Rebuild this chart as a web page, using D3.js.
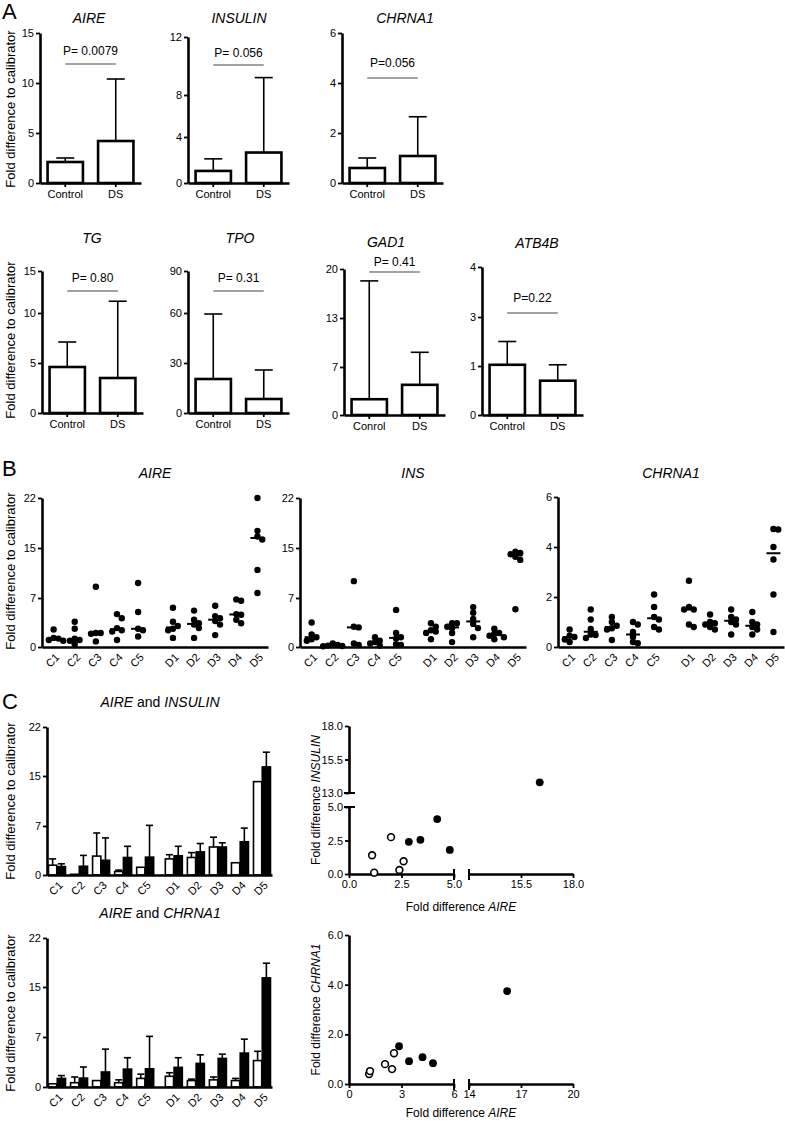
<!DOCTYPE html>
<html>
<head>
<meta charset="utf-8">
<title>AIRE and tissue antigen expression</title>
<script src="https://d3js.org/d3.v7.min.js"></script>
<style>
  body { margin: 0; background: #fff; }
  svg text { font-family: "Liberation Sans", Arial, Helvetica, sans-serif; fill: #000; }
</style>
</head>
<body>
<div id="chart"></div>
<script>
// ---------- Panel A: Control vs DS ----------
const groupsA = ["Control", "DS"];
const genesA = ["AIRE", "INSULIN", "CHRNA1", "TG", "TPO", "GAD1", "ATB4B"];
const barA = [[2.1, 4.2], [1.05, 2.65], [0.6, 1.08], [4.6, 3.5], [20.4, 8.4], [2.3, 4.4], [1.05, 0.7]];
const errA = [[2.5, 10.4], [2.1, 9.2], [1.0, 2.65], [7.1, 11.4], [59.4, 25.8], [18.3, 8.8], [2.0, 1.05]];
const pA = ["P= 0.0079", "P= 0.056", "P=0.056", "P= 0.80", "P= 0.31", "P= 0.41", "P=0.22"];
const ticksA = [[0, 5, 10, 15], [0, 4, 8, 12], [0, 2, 4, 6], [0, 5, 10, 15], [0, 30, 60, 90], [0, 7, 13, 20], [0, 1, 3, 4]];
const xLabelsA = [groupsA, groupsA, groupsA, groupsA, groupsA, ["Conrol", "DS"], groupsA];

// ---------- Panel B: individual samples ----------
const catsB = ["C1", "C2", "C3", "C4", "C5", "D1", "D2", "D3", "D4", "D5"];
const genesB = ["AIRE", "INS", "CHRNA1"];
const aireB = [
  [2.5, 1.3, 1.0, 1.2, 0.9],
  [3.6, 2.6, 1.2, 0.9, 0.4, 1.0],
  [8.8, 2.0, 0.8, 2.0, 1.9],
  [4.7, 4.1, 2.7, 2.4, 2.2, 1.0],
  [9.4, 5.0, 2.4, 1.5, 2.6],
  [5.6, 3.6, 3.0, 2.6, 1.3, 2.4],
  [5.2, 3.9, 3.4, 2.7, 1.3, 3.2],
  [5.9, 4.4, 4.1, 3.2, 1.7, 3.7],
  [6.6, 6.8, 4.7, 3.9, 3.4, 4.6],
  [22, 17.4, 16.6, 16.2, 11.5, 7.8]
];
const insB = [
  [3.5, 1.8, 1.4, 1.1, 0.9],
  [0.5, 0.3, 0.2, 0.15, 0.1],
  [9.7, 2.9, 2.8, 0.5, 0.3],
  [1.4, 0.9, 0.7, 0.5, 0.2],
  [5.3, 2.0, 1.4, 1.2, 0.4, 0.3],
  [3.4, 2.9, 2.4, 2.2, 2.0, 1.1],
  [3.4, 3.4, 2.9, 2.7, 2.0, 0.7],
  [5.7, 4.9, 4.0, 3.3, 2.7, 1.4],
  [2.6, 2.0, 1.9, 1.6, 1.1, 1.4],
  [14.4, 14.2, 14.0, 13.6, 13.1, 5.4]
];
const chrnaB = [
  [0.7, 0.45, 0.4, 0.3, 0.2],
  [1.5, 1.1, 0.72, 0.5, 0.48, 0.36],
  [1.2, 1.0, 0.85, 0.75, 0.7, 0.28],
  [1.0, 0.9, 0.6, 0.4, 0.2, 0.15],
  [2.1, 1.6, 1.2, 1.1, 0.8, 0.7],
  [2.65, 1.6, 1.5, 1.5, 0.9, 0.8],
  [1.3, 1.0, 0.95, 0.9, 0.8, 0.7],
  [1.5, 1.2, 1.1, 1.0, 0.9, 0.5],
  [1.4, 1.0, 0.9, 0.8, 0.7, 0.5],
  [4.72, 4.7, 4.0, 3.5, 2.1, 0.6]
];
const ticksB = [[0, 7, 15, 22], [0, 7, 15, 22], [0, 2, 4, 6]];

// ---------- Panel C: paired medians + scatter ----------
const aireC = [1.2, 1.25, 2.1, 2.5, 2.55, 2.75, 3.3, 4.0, 4.75, 16.3];
const aireErrC = [1.6, 2.8, 5.3, 4.1, 7.1, 4.1, 4.5, 4.6, 6.7, 18.4];
const insC = [1.4, 0.1, 2.7, 0.5, 1.1, 2.3, 2.5, 4.0, 1.75, 14.1];
const insErrC = [2.3, 0.1, 6.0, 0.7, 1.1, 2.9, 3.2, 5.4, 1.75, 14.1];
const chrnaC = [0.45, 0.6, 0.9, 0.6, 1.2, 1.5, 0.9, 1.0, 0.9, 3.7];
const chrnaErrC = [0.45, 1.4, 0.9, 1.0, 1.8, 2.0, 1.1, 1.4, 1.2, 5.0];
const ticksC = [0, 7, 15, 22];

const insScatterCtrl = [[1.1, 1.4], [1.2, 0.1], [2.0, 2.75], [2.4, 0.3], [2.6, 0.95]];
const insScatterDS = [[2.85, 2.4], [3.4, 2.55], [4.2, 4.1], [4.8, 1.8], [16.4, 13.8]];
const chrScatterCtrl = [[1.15, 0.4], [1.2, 0.52], [2.06, 0.8], [2.46, 0.6], [2.57, 1.24]];
const chrScatterDS = [[2.86, 1.52], [3.43, 0.92], [4.2, 1.08], [4.8, 0.84], [16.2, 3.74]];

// ---------- layout ----------
const W = 785, H = 1122;
const svg = d3.select("#chart").append("svg").attr("width", W).attr("height", H);
const FONT = '"Liberation Sans", Arial, Helvetica, sans-serif';
const intFmt = d3.format("~g");

function styleAxis(g, size) {
  g.attr("font-family", FONT).attr("font-size", size || 11);
  g.select(".domain").attr("stroke-width", 2.6);
  g.selectAll(".tick line").attr("stroke-width", 1.8);
}

function yTitle(text, x, cy) {
  svg.append("text").attr("transform", `translate(${x},${cy}) rotate(-90)`)
    .attr("text-anchor", "middle").attr("font-size", 13).text(text);
}

function panelLetter(t, x, y) {
  svg.append("text").attr("x", x).attr("y", y).attr("font-size", 22).text(t);
}

// ---------- Panel A ----------
const layoutA = [
  {x: 40, tickY: [183, 133, 83, 33], tx: 89, ty: 23, py: 55, ly: 64},
  {x: 188, tickY: [183, 137, 95, 37], tx: 239, ty: 23, py: 57, ly: 65},
  {x: 342, tickY: [183, 133, 83, 33], tx: 405, ty: 23, py: 67, ly: 78},
  {x: 42, tickY: [413, 363, 313, 271], tx: 92, ty: 243, py: 282, ly: 291},
  {x: 188, tickY: [413, 363, 313, 271], tx: 240, ty: 243, py: 282, ly: 291},
  {x: 344, tickY: [415, 367, 318, 269], tx: 386, ty: 247, py: 266, ly: 272},
  {x: 482, tickY: [415, 366, 317, 267], tx: 537, ty: 248, py: 302, ly: 313}
];

panelLetter("A", 2, 19);
genesA.forEach((gene, i) => {
  const L = layoutA[i];
  const g = svg.append("g");
  const y = d3.scaleLinear().domain(ticksA[i]).range(L.tickY);
  const x = d3.scaleBand().domain(groupsA).range([L.x, L.x + 101])
    .paddingInner(0.3).paddingOuter(0.15);
  const bw = x.bandwidth();

  // error bars (upper only)
  groupsA.forEach((grp, j) => {
    const cx = x(grp) + bw / 2;
    g.append("line").attr("x1", cx).attr("x2", cx)
      .attr("y1", y(barA[i][j])).attr("y2", y(errA[i][j]))
      .attr("stroke", "#000").attr("stroke-width", 1.6);
    g.append("line").attr("x1", cx - 9).attr("x2", cx + 9)
      .attr("y1", y(errA[i][j])).attr("y2", y(errA[i][j]))
      .attr("stroke", "#000").attr("stroke-width", 1.6);
  });

  g.selectAll("rect.bar").data(groupsA).join("rect").attr("class", "bar")
    .attr("x", d => x(d)).attr("y", (d, j) => y(barA[i][j]))
    .attr("width", bw).attr("height", (d, j) => y(0) - y(barA[i][j]))
    .attr("fill", "#fff").attr("stroke", "#000").attr("stroke-width", 2.6);

  const ya = g.append("g").attr("transform", `translate(${L.x},0)`)
    .call(d3.axisLeft(y).tickValues(ticksA[i]).tickFormat(intFmt)
      .tickSize(4).tickSizeOuter(0).tickPadding(2));
  styleAxis(ya);
  const xa = g.append("g").attr("transform", `translate(0,${y(0)})`)
    .call(d3.axisBottom(x).tickSize(4).tickSizeOuter(0).tickPadding(3)
      .tickFormat((d, j) => xLabelsA[i][j]));
  styleAxis(xa);

  // title
  g.append("text").attr("x", L.tx).attr("y", L.ty).attr("text-anchor", "middle")
    .attr("font-size", 14).attr("font-style", "italic").text(gene);
  // p value
  const x1 = x("Control") + bw / 2, x2 = x("DS") + bw / 2;
  g.append("line").attr("x1", x1).attr("x2", x2).attr("y1", L.ly).attr("y2", L.ly)
    .attr("stroke", "#444").attr("stroke-width", 1.2);
  g.append("text").attr("x", (x1 + x2) / 2).attr("y", L.py).attr("text-anchor", "middle")
    .attr("font-size", 12).text(pA[i]);
});
yTitle("Fold difference to calibrator", 15, 109);
yTitle("Fold difference to calibrator", 15, 340);

// ---------- Panel B ----------
// simple deterministic swarm: push a dot sideways only when it overlaps a lot
function swarm(vals, y, r) {
  const pts = vals.map(v => ({v, y: y(v), dx: 0})).sort((a, b) => a.y - b.y);
  const placed = [];
  const step = r * 1.5;
  pts.forEach(p => {
    for (let k = 0; k < 14; k++) {
      const off = k === 0 ? 0 : (k % 2 ? 1 : -1) * Math.ceil(k / 2) * step;
      if (placed.every(q => Math.hypot(q.dx - off, q.y - p.y) >= r * 1.35)) { p.dx = off; break; }
    }
    placed.push(p);
  });
  return pts;
}

function rotateLabels(axisG) {
  axisG.selectAll(".tick text")
    .attr("x", 0).attr("y", 0).attr("dy", 0)
    .attr("text-anchor", "end")
    .attr("transform", "translate(6,11) rotate(-45)");
}

const layoutB = [
  {x: 42, tickY: [647, 598, 548, 498]},
  {x: 300, tickY: [647, 598, 548, 498]},
  {x: 558, tickY: [647, 597, 547, 497]}
];
const dataB = [aireB, insB, chrnaB];
const slotB = i => (i < 5 ? i : i + 0.65);

panelLetter("B", 2, 476);
genesB.forEach((gene, gi) => {
  const L = layoutB[gi];
  const g = svg.append("g");
  const y = d3.scaleLinear().domain(ticksB[gi]).range(L.tickY);
  const x = d3.scaleLinear().domain([-0.55, 10.15]).range([L.x, L.x + 226]);
  const r = 3.2;

  dataB[gi].forEach((vals, ci) => {
    const cx = x(slotB(ci));
    const pts = swarm(vals, y, r);
    g.selectAll(null).data(pts).join("circle")
      .attr("cx", d => cx + d.dx).attr("cy", d => d.y).attr("r", r).attr("fill", "#000");
    const med = d3.median(vals);
    g.append("line").attr("x1", cx - 7).attr("x2", cx + 7)
      .attr("y1", y(med)).attr("y2", y(med)).attr("stroke", "#000").attr("stroke-width", 2);
  });

  const ya = g.append("g").attr("transform", `translate(${L.x},0)`)
    .call(d3.axisLeft(y).tickValues(ticksB[gi]).tickFormat(intFmt)
      .tickSize(4).tickSizeOuter(0).tickPadding(2));
  styleAxis(ya);
  const xa = g.append("g").attr("transform", `translate(0,${y(0)})`)
    .call(d3.axisBottom(x).tickValues(catsB.map((c, i) => slotB(i)))
      .tickFormat((d, i) => catsB[i]).tickSize(0).tickSizeOuter(0));
  styleAxis(xa);
  rotateLabels(xa);

  g.append("text").attr("x", L.x + 113).attr("y", 478).attr("text-anchor", "middle")
    .attr("font-size", 14).attr("font-style", "italic").text(gene);
});
yTitle("Fold difference to calibrator", 15, 571);

// ---------- Panel C: paired bars ----------
const slotC = i => (i < 5 ? i : i + 0.3);
function pairedBars(other, otherErr, otherName, tickY, titleY) {
  const g = svg.append("g");
  const y = d3.scaleLinear().domain(ticksC).range(tickY);
  const x = d3.scaleLinear().domain([-0.454, 9.754]).range([47, 272]);
  const sub = d3.scaleBand().domain(["other", "AIRE"]).range([-8.5, 8.5]).paddingInner(0.06);
  const series = [
    {key: "other", vals: other, errs: otherErr, fill: "#fff"},
    {key: "AIRE", vals: aireC, errs: aireErrC, fill: "#000"}
  ];
  series.forEach(s => {
    s.vals.forEach((v, ci) => {
      const bx = x(slotC(ci)) + sub(s.key);
      const cx = bx + sub.bandwidth() / 2;
      if (s.errs[ci] > v) {
        g.append("line").attr("x1", cx).attr("x2", cx).attr("y1", y(v)).attr("y2", y(s.errs[ci]))
          .attr("stroke", "#000").attr("stroke-width", 1.6);
        g.append("line").attr("x1", cx - 3.5).attr("x2", cx + 3.5)
          .attr("y1", y(s.errs[ci])).attr("y2", y(s.errs[ci]))
          .attr("stroke", "#000").attr("stroke-width", 1.6);
      }
      g.append("rect").attr("x", bx).attr("y", y(v))
        .attr("width", sub.bandwidth()).attr("height", y(0) - y(v))
        .attr("fill", s.fill).attr("stroke", "#000").attr("stroke-width", 1.6);
    });
  });
  const ya = g.append("g").attr("transform", "translate(47,0)")
    .call(d3.axisLeft(y).tickValues(ticksC).tickFormat(intFmt)
      .tickSize(4).tickSizeOuter(0).tickPadding(2));
  styleAxis(ya);
  const xa = g.append("g").attr("transform", `translate(0,${y(0)})`)
    .call(d3.axisBottom(x).tickValues(catsB.map((c, i) => slotC(i)))
      .tickFormat((d, i) => catsB[i]).tickSize(0).tickSizeOuter(0));
  styleAxis(xa);
  rotateLabels(xa);

  const t = g.append("text").attr("x", 160).attr("y", titleY).attr("text-anchor", "middle")
    .attr("font-size", 14);
  t.append("tspan").attr("font-style", "italic").text("AIRE");
  t.append("tspan").text(" and ");
  t.append("tspan").attr("font-style", "italic").text(otherName);
}

panelLetter("C", 2, 709);
pairedBars(insC, insErrC, "INSULIN", [875, 826, 776, 727], 707);
pairedBars(chrnaC, chrnaErrC, "CHRNA1", [1087, 1037, 987, 938], 918);
yTitle("Fold difference to calibrator", 15, 801);
yTitle("Fold difference to calibrator", 15, 1013);

// ---------- Panel C: scatter plots with broken axes ----------
function scatter(opts) {
  const g = svg.append("g");
  const xL = d3.scaleLinear().domain(opts.xLeft).range([349, 454]);
  const xR = d3.scaleLinear().domain(opts.xRight).range([469, 573]);
  const fx = v => (v > opts.xBreak ? xR(v) : xL(v));
  const yLow = d3.scaleLinear().domain(opts.yLow).range(opts.yLowRange);
  const yHigh = opts.yHigh ? d3.scaleLinear().domain(opts.yHigh).range(opts.yHighRange) : null;
  const fy = v => (yHigh && v > opts.yBreak ? yHigh(v) : yLow(v));
  const axisY = opts.yLowRange[0];
  const fmtX = opts.fmtX, fmtY = d3.format(".1f");

  const xa1 = g.append("g").attr("transform", `translate(0,${axisY})`)
    .call(d3.axisBottom(xL).tickValues(opts.xTicksL).tickFormat(fmtX).tickSize(4).tickSizeOuter(0).tickPadding(2));
  const xa2 = g.append("g").attr("transform", `translate(0,${axisY})`)
    .call(d3.axisBottom(xR).tickValues(opts.xTicksR).tickFormat(fmtX).tickSize(4).tickSizeOuter(0).tickPadding(2));
  const ya1 = g.append("g").attr("transform", "translate(349,0)")
    .call(d3.axisLeft(yLow).tickValues(opts.yTicksLow).tickFormat(fmtY).tickSize(4).tickSizeOuter(0).tickPadding(2));
  [xa1, xa2, ya1].forEach(a => styleAxis(a));
  if (yHigh) {
    const ya2 = g.append("g").attr("transform", "translate(349,0)")
      .call(d3.axisLeft(yHigh).tickValues(opts.yTicksHigh).tickFormat(fmtY).tickSize(4).tickSizeOuter(0).tickPadding(2));
    styleAxis(ya2);
    [yLow.range()[1], yHigh.range()[0]].forEach(yy => {
      g.append("line").attr("x1", 344).attr("x2", 355).attr("y1", yy).attr("y2", yy)
        .attr("stroke", "#000").attr("stroke-width", 2);
    });
  }
  // break caps on the x axis
  [xL.range()[1], xR.range()[0]].forEach(xx => {
    g.append("line").attr("x1", xx).attr("x2", xx).attr("y1", axisY - 5).attr("y2", axisY + 6)
      .attr("stroke", "#000").attr("stroke-width", 2);
  });

  g.selectAll(null).data(opts.ctrl).join("circle")
    .attr("cx", d => fx(d[0])).attr("cy", d => fy(d[1])).attr("r", 3.4)
    .attr("fill", "#fff").attr("stroke", "#000").attr("stroke-width", 1.6);
  g.selectAll(null).data(opts.ds).join("circle")
    .attr("cx", d => fx(d[0])).attr("cy", d => fy(d[1])).attr("r", 3.9).attr("fill", "#000");

  const xt = g.append("text").attr("x", 461).attr("y", opts.xTitleY).attr("text-anchor", "middle")
    .attr("font-size", 12);
  xt.append("tspan").text("Fold difference ");
  xt.append("tspan").attr("font-style", "italic").text("AIRE");
  const cy = (opts.yLowRange[0] + (yHigh ? yHigh.range()[1] : opts.yLowRange[1])) / 2;
  const yt = g.append("text").attr("transform", `translate(320,${cy}) rotate(-90)`)
    .attr("text-anchor", "middle").attr("font-size", 12);
  yt.append("tspan").text("Fold difference ");
  yt.append("tspan").attr("font-style", "italic").text(opts.yName);
}

scatter({
  xLeft: [0, 5], xRight: [13, 18], xBreak: 10,
  xTicksL: [0, 2.5, 5], xTicksR: [15.5, 18], fmtX: d3.format(".1f"),
  yLow: [0, 5], yLowRange: [874, 807], yHigh: [13, 18], yHighRange: [793, 726], yBreak: 10,
  yTicksLow: [0, 2.5, 5], yTicksHigh: [13, 15.5, 18],
  ctrl: insScatterCtrl, ds: insScatterDS, yName: "INSULIN", xTitleY: 911
});
scatter({
  xLeft: [0, 6], xRight: [14, 20], xBreak: 10,
  xTicksL: [0, 3, 6], xTicksR: [14, 17, 20], fmtX: d3.format("d"),
  yLow: [0, 6], yLowRange: [1084, 935],
  yTicksLow: [0, 2, 4, 6],
  ctrl: chrScatterCtrl, ds: chrScatterDS, yName: "CHRNA1", xTitleY: 1117
});
</script>
</body>
</html>
